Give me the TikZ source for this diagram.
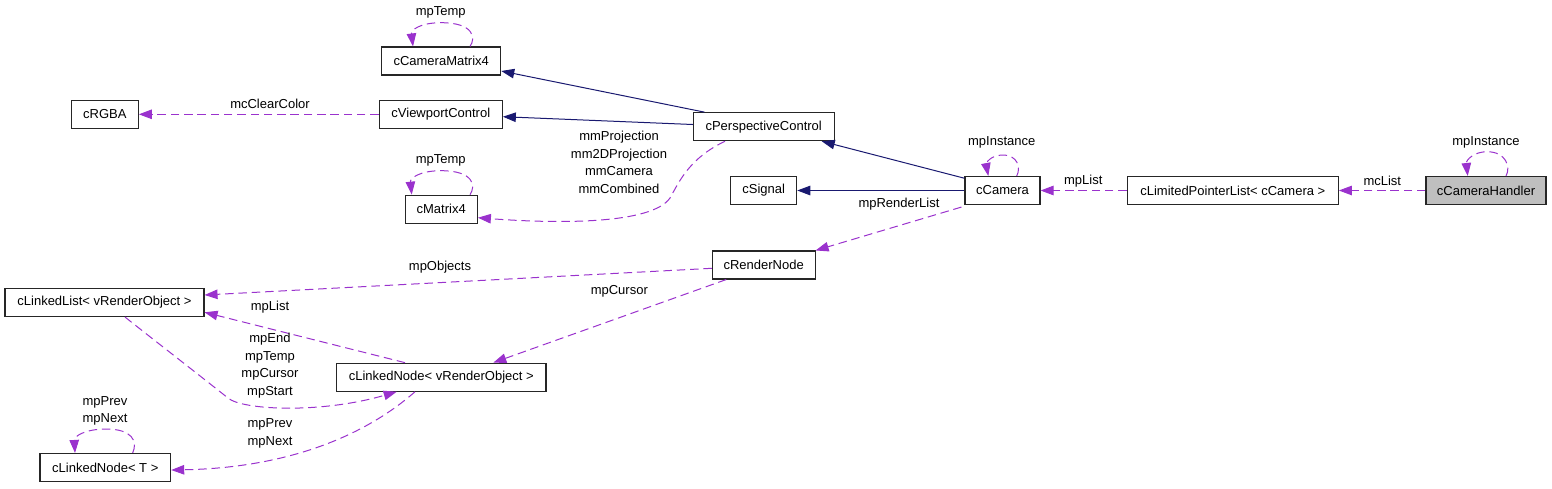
\documentclass[tikz,border=0pt]{standalone}
\usepackage{fontspec}
\setmainfont{Liberation Sans}
\usetikzlibrary{arrows.meta}
\definecolor{edgepurple}{HTML}{9A32CD}
\definecolor{edgeblue}{HTML}{191970}
\definecolor{hlgray}{HTML}{BFBFBF}
\begin{document}
\begin{tikzpicture}[x=1pt,y=-1pt,
  font=\fontsize{13}{17.5}\selectfont,
  cls/.style={draw=black!85, line width=1.1pt, inner sep=0pt, minimum height=28pt, fill=white},
  lbl/.style={inner sep=0pt, align=center},
  inherit/.style={draw=edgeblue, line width=1pt, -{Triangle[length=13pt,width=9.5pt]}, edgeblue},
  usage/.style={draw=edgepurple, line width=1pt, dash pattern=on 8.5pt off 4.8pt, -{Triangle[length=13pt,width=9.5pt]}, fill=none}]
\useasboundingbox (0,0) rectangle (1552,488);

% nodes
\node[cls, minimum width=119pt] (cm4) at (441.2,61) {cCameraMatrix4};
\node[cls, minimum width=67pt] (rgba) at (104.8,114.3) {cRGBA};
\node[cls, minimum width=123pt] (vpc) at (440.8,114.3) {cViewportControl};
\node[cls, minimum width=72.3pt] (mat4) at (441.2,209.2) {cMatrix4};
\node[cls, minimum width=140.7pt] (persp) at (763.7,126.7) {cPerspectiveControl};
\node[cls, minimum width=66pt] (sig) at (763.7,190.5) {cSignal};
\node[cls, minimum width=75pt] (cam) at (1002.5,190.5) {cCamera};
\node[cls, minimum width=211pt] (lpl) at (1232.8,190.5) {cLimitedPointerList< cCamera >};
\node[cls, minimum width=120pt, fill=hlgray] (hand) at (1486,190.5) {cCameraHandler};
\node[cls, minimum width=102.7pt] (rnode) at (763.7,265) {cRenderNode};
\node[cls, minimum width=199pt] (llist) at (104.5,302.5) {cLinkedList< vRenderObject >};
\node[cls, minimum width=209.3pt] (lnode) at (441.3,377.2) {cLinkedNode< vRenderObject >};
\node[cls, minimum width=130.7pt] (lnodet) at (105.3,467.5) {cLinkedNode< T >};

% inheritance edges
\draw[inherit] ([xshift=11.7pt]persp.north west) -- ([yshift=-10pt]cm4.east);
\draw[inherit] ([yshift=2.2pt]persp.west) -- ([yshift=-2.4pt]vpc.east);
\draw[inherit] ([yshift=-2.3pt]cam.north west) -- ([xshift=58pt]persp.south);
\draw[inherit] (cam.west) -- (sig.east);

% usage edges
\draw[usage] (vpc.west) -- (rgba.east);
\node[lbl] (l-clear) at (270,104.3) {mcClearColor};

\draw[usage] ([xshift=28.8pt]cm4.north) .. controls (476,38) and (474,22.7) .. (441,22.7)
  .. controls (420,22.7) and (411,30) .. ([xshift=-28.2pt]cm4.north);
\node[lbl] (l-cm4) at (440.7,12.7) {mpTemp};

\draw[usage] ([xshift=28.8pt]mat4.north) .. controls (476,186) and (474,170.7) .. (441,170.7)
  .. controls (420,170.7) and (410,178) .. ([xshift=-29.5pt]mat4.north);
\node[lbl] (l-mat4) at (440.7,160.7) {mpTemp};

\draw[usage] ([xshift=-38.7pt]persp.south) .. controls (690,158) and (680,180) .. (670,198)
  .. controls (652,224) and (560,224) .. ([yshift=-8.5pt]mat4.east);
\node[lbl] (l-persp) at (619,162.4) {mmProjection\\mm2DProjection\\mmCamera\\mmCombined};

\draw[usage] ([xshift=14.2pt]cam.north) .. controls (1021,168) and (1018,155) .. (1002.5,155)
  .. controls (990,155) and (986,164) .. ([xshift=-14.2pt]cam.north);
\node[lbl] (l-cam) at (1001.7,142.7) {mpInstance};

\draw[usage] (lpl.west) -- (cam.east);
\node[lbl] (l-lpl) at (1083.3,180.7) {mpList};

\draw[usage] (hand.west) -- (lpl.east);
\node[lbl] (l-hand) at (1382.3,180.7) {mcList};

\draw[usage] ([xshift=20pt]hand.north) .. controls (1511,167) and (1506,151.7) .. (1487,151.7)
  .. controls (1474,151.7) and (1466,160) .. ([xshift=-18.3pt]hand.north);
\node[lbl] (l-handself) at (1486,142.7) {mpInstance};

\draw[usage] ([xshift=-3pt,yshift=-2pt]cam.south west) -- (rnode.north east);
\node[lbl] (l-rlist) at (899,203.7) {mpRenderList};

\draw[usage] ([yshift=-3.3pt]rnode.west) -- ([yshift=7.5pt]llist.east);
\node[lbl] (l-obj) at (440,267.3) {mpObjects};

\draw[usage] ([xshift=14.4pt]rnode.south west) -- ([xshift=52pt]lnode.north);
\node[lbl] (l-cursor) at (619.3,291.7) {mpCursor};

\draw[usage] ([xshift=-36.3pt]lnode.north) -- ([yshift=-9.8pt]llist.east);
\node[lbl] (l-mplist) at (270,307.3) {mpList};

\draw[usage] ([xshift=20.5pt]llist.south) .. controls (159,344) and (194,371) .. (228,398)
  .. controls (242,410) and (320,414) .. ([xshift=-44.6pt]lnode.south);
\node[lbl] (l-llist) at (270,365.5) {mpEnd\\mpTemp\\mpCursor\\mpStart};

\draw[usage] ([xshift=-26.3pt]lnode.south) .. controls (360,440) and (280,468) .. ([yshift=-2.5pt]lnodet.east);
\node[lbl] (l-lnode) at (270,433.5) {mpPrev\\[0.9pt]mpNext};

\draw[usage] ([xshift=27.4pt]lnodet.north) .. controls (138,441) and (132,429) .. (106,429)
  .. controls (86,429) and (74,436) .. ([xshift=-30.3pt]lnodet.north);
\node[lbl] (l-lnodet) at (105,411) {mpPrev\\[-0.9pt]mpNext};
\end{tikzpicture}
\end{document}
